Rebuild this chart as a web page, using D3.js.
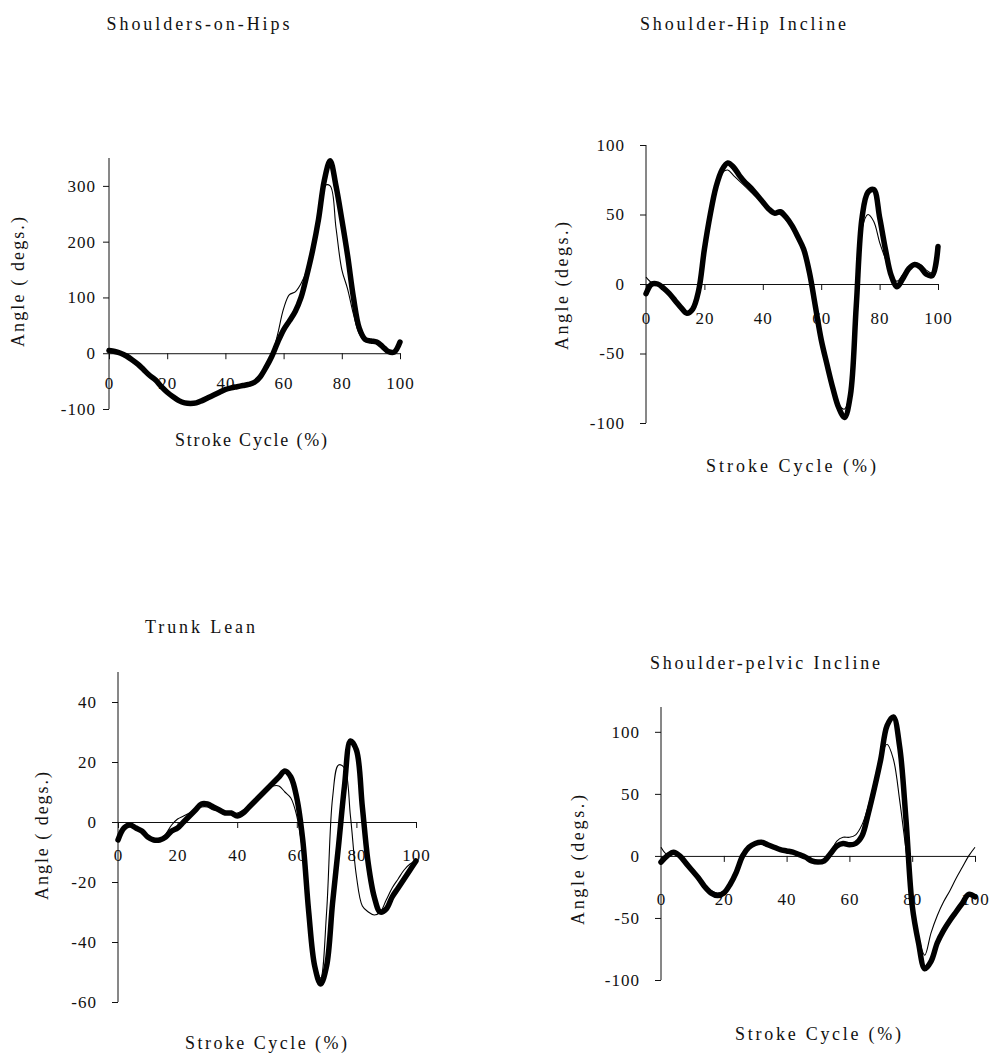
<!DOCTYPE html>
<html><head><meta charset="utf-8">
<script src="https://cdn.jsdelivr.net/npm/d3@7"></script>
<style>
html,body{margin:0;padding:0;background:#fff;}
svg{display:block;}
text{font-family:"Liberation Serif","Times New Roman",serif;fill:#111;font-weight:normal;}
</style></head>
<body>
<svg id="chart" width="989" height="1056"></svg>
<script>
// Stroke cycle grid (%) shared by all series
const cycle = d3.range(0, 101, 2);

// Shoulders-on-Hips
const hipsThick = [5,3,0,-5,-12,-20,-30,-40,-48,-60,-70,-78,-85,-89,-90,-89,-85,-80,-75,-70,-65,-62,-60,-58,-56,-52,-42,-25,-5,20,42,58,75,100,140,185,240,310,345,300,240,175,100,45,25,22,20,12,3,2,20];
const hipsThin  = [5,3,0,-5,-12,-20,-30,-40,-48,-60,-70,-78,-85,-89,-90,-89,-85,-80,-75,-70,-65,-62,-60,-58,-56,-52,-42,-25,-5,35,80,105,110,125,150,195,250,300,300,225,150,115,70,35,22,22,20,12,3,2,20];

// Shoulder-Hip Incline
const inclineThick = [-7,0,0,-3,-7,-12,-17,-21,-18,-5,25,50,70,82,87,84,78,73,69,64,59,54,51,52,48,42,34,25,8,-16,-40,-58,-75,-89,-96,-80,-16,48,66,68,48,25,6,-2,4,11,14,12,7,6,27];
const inclineThin  = [5,1,0,-3,-7,-12,-17,-20,-16,-3,25,50,70,80,82,78,74,70,66,62,58,54,52,50,46,41,33,24,8,-17,-42,-60,-76,-87,-90,-76,-14,40,50,45,30,18,6,2,7,12,15,14,10,8,22];

// Trunk Lean
const leanThick = [-6,-2,-1,-2,-3,-5,-6,-6,-5,-3,-2,0,2,4,6,6,5,4,3,3,2,3,5,7,9,11,13,15,17,15,8,-6,-30,-48,-54,-48,-27,-8,12,27,24,5,-14,-25,-30,-29,-25,-22,-19,-16,-13];
const leanThin  = [-5,-2,-1,-2,-3,-5,-6,-6,-4,-1,1,2,3,4,5,5,4,4,3,3,3,4,5,7,9,11,12,12,10,8,2,-10,-30,-46,-52,-30,8,19,18,2,-18,-28,-30,-31,-30,-26,-22,-19,-16,-14,-13];

// Shoulder-pelvic Incline
const pelvicThick = [-5,0,3,0,-6,-12,-18,-25,-30,-32,-30,-23,-13,0,7,10,11,9,7,5,4,3,1,-1,-4,-5,-4,2,8,10,9,10,16,34,55,78,105,112,88,30,-40,-70,-91,-85,-70,-60,-52,-45,-38,-31,-33];
const pelvicThin  = [7,1,2,0,-6,-12,-18,-24,-28,-30,-28,-22,-12,0,7,9,10,9,7,5,4,3,1,-1,-3,-4,-3,3,12,15,15,17,25,40,60,80,90,78,45,5,-35,-65,-80,-62,-48,-37,-28,-18,-9,0,7];

// Titles and tick labels
const titles = ["Shoulders-on-Hips","Shoulder-Hip Incline","Trunk Lean","Shoulder-pelvic Incline"];
const xTicks = [0,20,40,60,80,100];
const yTicks1 = [-100,0,100,200,300];
const yTicks2 = [-100,-50,0,50,100];
const yTicks3 = [-60,-40,-20,0,20,40];
const yTicks4 = [-100,-50,0,50,100];
const yDomains = [[-100,350],[-100,100],[-60,50],[-100,120]];
const xLabel = "Stroke Cycle (%)";
const yLabels = ["Angle ( degs.)","Angle (degs.)","Angle ( degs.)","Angle (degs.)"];

// layout per panel
const panels = [
  {thick:hipsThick, thin:hipsThin, yTicks:yTicks1, x0:109, x1:400, yTop:158, yBot:409,
   title:[198,24,183], xt:[251,440,152], yt:[18,282,130], xLabOff:32, yLabGap:13},
  {thick:inclineThick, thin:inclineThin, yTicks:yTicks2, x0:646, x1:938, yTop:145, yBot:423,
   title:[743,24,206], xt:[791,466,170], yt:[562,286,128], xLabOff:36, yLabGap:21},
  {thick:leanThick, thin:leanThin, yTicks:yTicks3, x0:118, x1:416, yTop:672, yBot:1002,
   title:[200,627,110], xt:[266,1043,162], yt:[42,836,128], xLabOff:35, yLabGap:21},
  {thick:pelvicThick, thin:pelvicThin, yTicks:yTicks4, x0:661, x1:975, yTop:707, yBot:980,
   title:[765,663,230], xt:[818,1034,166], yt:[578,860,130], xLabOff:45, yLabGap:21}
];

const svg = d3.select("#chart");
svg.append("rect").attr("width",989).attr("height",1056).attr("fill","#fff");

const fmt = d => String(d);

panels.forEach((p,i)=>{
  const g = svg.append("g");
  const x = d3.scaleLinear().domain([0,100]).range([p.x0,p.x1]);
  const y = d3.scaleLinear().domain(yDomains[i]).range([p.yBot,p.yTop]);

  // y axis
  const ya = g.append("g").attr("transform",`translate(${p.x0},0)`)
    .call(d3.axisLeft(y).tickValues(p.yTicks).tickFormat(fmt).tickSize(6).tickPadding(p.yLabGap-6).tickSizeOuter(0));
  ya.attr("font-family",null);
  ya.select(".domain").attr("stroke","#111").attr("d",`M0,${p.yTop}V${p.yBot}`);
  ya.selectAll(".tick line").attr("stroke","#111");
  ya.selectAll(".tick text").attr("font-size",17).attr("letter-spacing",1).attr("fill","#111");

  // x axis at zero
  const xa = g.append("g").attr("transform",`translate(0,${y(0)})`)
    .call(d3.axisBottom(x).tickValues(xTicks).tickFormat(fmt).tickSize(6).tickPadding(p.xLabOff-14).tickSizeOuter(0));
  xa.attr("font-family",null);
  xa.select(".domain").attr("stroke","#111");
  xa.selectAll(".tick line").attr("stroke","#111");
  xa.selectAll(".tick text").attr("font-size",17).attr("letter-spacing",1).attr("fill","#111");

  const line = d3.line().x((d,k)=>x(cycle[k])).y(d=>y(d)).curve(d3.curveCatmullRom.alpha(0.5));
  g.append("path").attr("d",line(p.thick)).attr("fill","none").attr("stroke","#000")
    .attr("stroke-width",5.5).attr("stroke-linejoin","round").attr("stroke-linecap","round");
  g.append("path").attr("d",line(p.thin)).attr("fill","none").attr("stroke","#000")
    .attr("stroke-width",1.1);

  // titles
  g.append("text").attr("x",p.title[0]).attr("y",p.title[1]).attr("dy","0.35em")
    .attr("text-anchor","middle").attr("font-size",18)
    .attr("textLength",p.title[2]).attr("lengthAdjust","spacing").text(titles[i]);
  g.append("text").attr("x",p.xt[0]).attr("y",p.xt[1]).attr("dy","0.35em")
    .attr("text-anchor","middle").attr("font-size",18)
    .attr("textLength",p.xt[2]).attr("lengthAdjust","spacing").text(xLabel);
  g.append("text").attr("transform",`translate(${p.yt[0]},${p.yt[1]}) rotate(-90)`).attr("dy","0.35em")
    .attr("text-anchor","middle").attr("font-size",18)
    .attr("textLength",p.yt[2]).attr("lengthAdjust","spacing").text(yLabels[i]);
});
</script>
</body></html>
